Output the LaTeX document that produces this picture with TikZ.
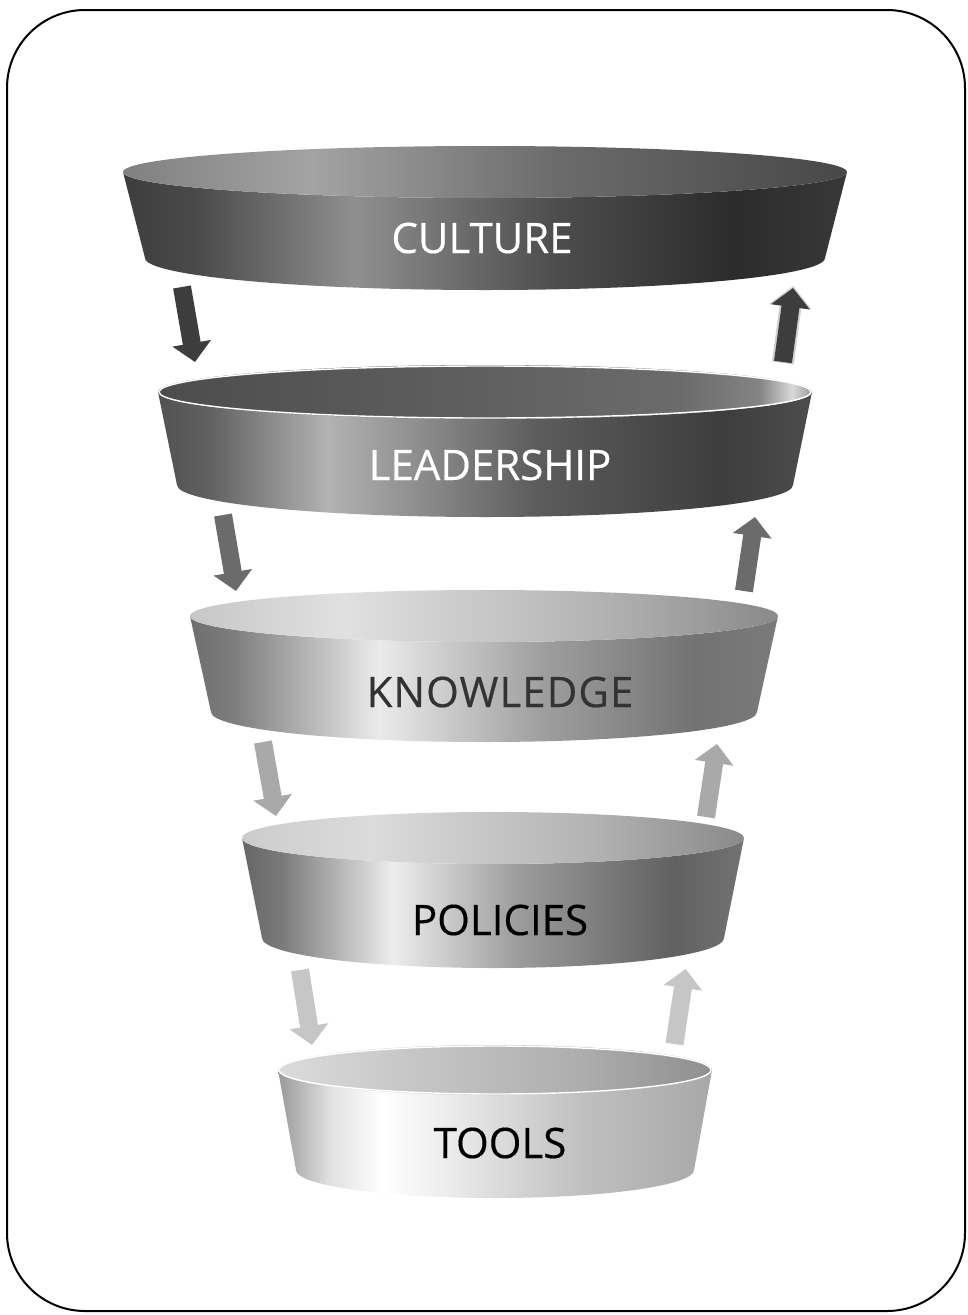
\documentclass[tikz,border=0pt]{standalone}
\usepackage{fontspec}
\setmainfont{Open Sans}
\newfontfamily\lblfont{Open Sans}[FakeBold=0.35]
\newfontfamily\lblwide{Open Sans}[FakeBold=0.35,LetterSpace=2.5]
\usetikzlibrary{arrows.meta}

% side and top shadings (stops between 25bp and 75bp span the path)
\pgfdeclarehorizontalshading{cultSide}{100bp}{color(0bp)=(black!76);color(25bp)=(black!76);color(30bp)=(black!71);color(41bp)=(black!44);color(55bp)=(black!70);color(67bp)=(black!83);color(75bp)=(black!78);color(100bp)=(black!78)}
\pgfdeclarehorizontalshading{cultTop}{100bp}{color(0bp)=(black!50);color(25bp)=(black!50);color(38bp)=(black!36);color(55bp)=(black!58);color(75bp)=(black!72);color(100bp)=(black!72)}
\pgfdeclarehorizontalshading{leadSide}{100bp}{color(0bp)=(black!68);color(25bp)=(black!68);color(29bp)=(black!62);color(38bp)=(black!30);color(54bp)=(black!64);color(68bp)=(black!76);color(75bp)=(black!70);color(100bp)=(black!70)}
\pgfdeclarehorizontalshading{leadTop}{100bp}{color(0bp)=(black!70);color(25bp)=(black!70);color(45bp)=(black!64);color(65bp)=(black!58);color(71bp)=(black!48);color(73.5bp)=(black!15);color(75bp)=(black!40);color(100bp)=(black!40)}
\pgfdeclarehorizontalshading{knowSide}{100bp}{color(0bp)=(black!57);color(25bp)=(black!57);color(29bp)=(black!50);color(41bp)=(black!8);color(55bp)=(black!38);color(68bp)=(black!55);color(75bp)=(black!52);color(100bp)=(black!52)}
\pgfdeclarehorizontalshading{knowTop}{100bp}{color(0bp)=(black!22);color(25bp)=(black!22);color(38bp)=(black!12);color(60bp)=(black!30);color(75bp)=(black!46);color(100bp)=(black!46)}
\pgfdeclarehorizontalshading{poliSide}{100bp}{color(0bp)=(black!60);color(25bp)=(black!60);color(29bp)=(black!52);color(40bp)=(black!7);color(53bp)=(black!40);color(68bp)=(black!62);color(75bp)=(black!55);color(100bp)=(black!55)}
\pgfdeclarehorizontalshading{poliTop}{100bp}{color(0bp)=(black!20);color(25bp)=(black!20);color(38bp)=(black!14);color(60bp)=(black!30);color(75bp)=(black!46);color(100bp)=(black!46)}
\pgfdeclarehorizontalshading{toolSide}{100bp}{color(0bp)=(black!40);color(25bp)=(black!40);color(31bp)=(black!12);color(37bp)=(black!0);color(45bp)=(black!8);color(60bp)=(black!25);color(75bp)=(black!34);color(100bp)=(black!34)}
\pgfdeclarehorizontalshading{toolTop}{100bp}{color(0bp)=(black!14);color(25bp)=(black!14);color(40bp)=(black!22);color(60bp)=(black!32);color(75bp)=(black!44);color(100bp)=(black!44)}

\definecolor{arrA}{HTML}{3D3D3D}
\definecolor{arrB}{HTML}{6B6B6B}
\definecolor{arrC}{HTML}{A9A9A9}
\definecolor{arrD}{HTML}{C6C6C6}

% #1 cx, #2 cy top, #3 rx top, #4 ry top, #5 cy bottom, #6 rx bottom, #7 ry bottom, #8 side shading, #9 top shading
\newcommand{\drumlevel}[9]{%
  \path[shading=#8] ({#1-#3},#2) -- ({#1-#6},#5)
     arc[start angle=180,end angle=0,x radius=#6,y radius=#7]
     -- ({#1+#3},#2)
     arc[start angle=0,end angle=180,x radius=#3,y radius=#4] -- cycle;
  \path[shading=#9] (#1,#2) ellipse[x radius=#3,y radius=#4];
}

\tikzset{
  lbl/.style={font=\lblfont\fontsize{42}{48}\selectfont, inner sep=0pt},
  lblw/.style={font=\lblwide\fontsize{42}{48}\selectfont, inner sep=0pt},
  fatarrow/.style={line width=18pt, -{Triangle[width=38pt,length=19pt]}},
}

\begin{document}
\begin{tikzpicture}[x=1pt,y=-1pt]
\useasboundingbox (0,0) rectangle (968,1315);
\fill[white] (0,0) rectangle (968,1315);
\draw[line width=2pt, rounded corners=78pt] (7,10) rectangle (965,1311);

% levels
\drumlevel{485}{172}{362}{26}{258}{340}{32}{cultSide}{cultTop}
\drumlevel{485}{392}{327}{27}{485}{308}{32}{leadSide}{leadTop}
\draw[white, line width=1.4pt] (485,392) ellipse[x radius=326, y radius=26];
\drumlevel{484}{616}{294}{26}{712}{273}{30}{knowSide}{knowTop}
\drumlevel{493}{838}{251}{26}{938}{231}{30}{poliSide}{poliTop}
\drumlevel{495}{1070}{217}{25}{1170}{199}{28}{toolSide}{toolTop}
\draw[white, line width=1.4pt] (495,1070) ellipse[x radius=216, y radius=24];

% labels
\node[lbl, text=white] (culture) at (482,238) {CULTURE};
\node[lbl, text=white] (leadership) at (490,465) {LEADERSHIP};
\node[lblw, text=black!80] (knowledge) at (500,692) {KNOWLEDGE};
\node[lbl, text=black] (policies) at (500,920) {POLICIES};
\node[lbl, text=black] (tools) at (500,1143) {TOOLS};

% arrow end points
\coordinate (d1s) at (182,287);  \coordinate (d1e) at (195,362);
\coordinate (d2s) at (223,515);  \coordinate (d2e) at (236,591);
\coordinate (d3s) at (263,742);  \coordinate (d3e) at (276,816);
\coordinate (d4s) at (300,970);  \coordinate (d4e) at (312,1045);
\coordinate (u1s) at (783,362);  \coordinate (u1e) at (793,288);
\coordinate (u2s) at (744,591);  \coordinate (u2e) at (755,517);
\coordinate (u3s) at (706,817);  \coordinate (u3e) at (717,744);
\coordinate (u4s) at (674.5,1044); \coordinate (u4e) at (685.7,969);

% arrows
\draw[fatarrow, arrA] (d1s) -- (d1e);
\draw[line width=22pt, black!18, -{Triangle[width=42pt,length=21pt]}, shorten <=-1pt] (u1s) -- ([shift={(0.2,-2)}]u1e);
\draw[fatarrow, arrA] (u1s) -- (u1e);
\draw[fatarrow, arrB] (d2s) -- (d2e);
\draw[fatarrow, arrB] (u2s) -- (u2e);
\draw[fatarrow, arrC] (d3s) -- (d3e);
\draw[fatarrow, arrC] (u3s) -- (u3e);
\draw[fatarrow, arrD] (d4s) -- (d4e);
\draw[fatarrow, arrD] (u4s) -- (u4e);
\end{tikzpicture}
\end{document}
